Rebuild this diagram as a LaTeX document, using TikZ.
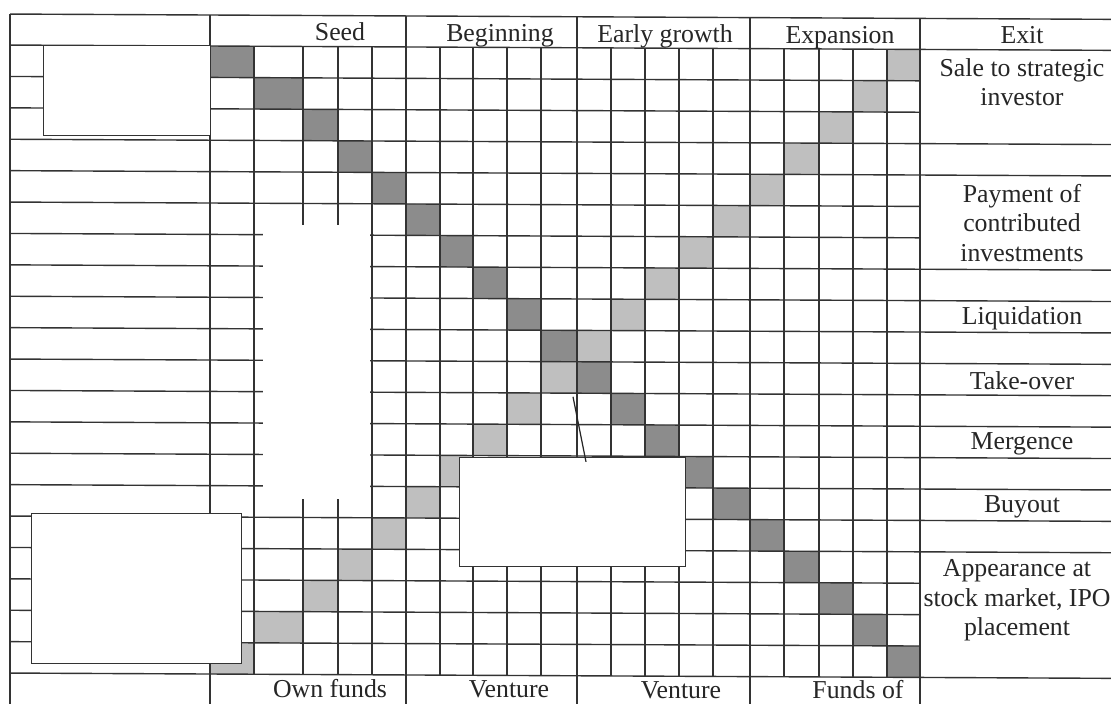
\documentclass[tikz,border=0pt]{standalone}
\usepackage{fontspec}
\setmainfont{Liberation Serif}
\begin{document}
\tikzset{
  gridline/.style={draw=black!80, line width=1.4pt},
  darkcell/.style={fill=black!45},
  lightcell/.style={fill=black!25},
  blankbox/.style={draw=black!80, line width=1.2pt, fill=white, inner sep=0pt, anchor=north west},
  gapbox/.style={fill=white, draw=none, inner sep=0pt, anchor=north west},
  callout/.style={draw=black!85, line width=1.2pt},
  lbl/.style={font=\fontsize{25.8}{29.5}\selectfont, inner sep=0pt, text=black!85},
}
\def\colarr{{210,254,303,338,372,406,440,473,507,541,577,611,645,679,713,750,784,819,853,887,920}}
\begin{tikzpicture}[x=1pt,y=-1pt]
\useasboundingbox (0,0) rectangle (1111,704);
\clip (0,0) rectangle (1111,704);
\fill[white] (0,0) rectangle (1111,704);
\begin{scope}[cm={1,-0.0048,0,1,(0,0)}]
  % shaded cells
  \foreach \i in {1,...,20}{
    \pgfmathsetmacro\xa{\colarr[\i-1]}
    \pgfmathsetmacro\xb{\colarr[\i]}
    \pgfmathsetmacro\xc{\colarr[20-\i]}
    \pgfmathsetmacro\xd{\colarr[21-\i]}
    \pgfmathsetmacro\ya{45+31.4*(\i-1)}
    \pgfmathsetmacro\yb{45+31.4*\i}
    \fill[darkcell] (\xa,\ya) rectangle (\xb,\yb);
    \fill[lightcell] (\xc,\ya) rectangle (\xd,\yb);
  }
  % horizontal lines
  \draw[gridline] (10,14) -- (1111,14);
  \foreach \k in {0,20} \draw[gridline] (10,{45+31.4*\k}) -- (1111,{45+31.4*\k});
  \foreach \k in {1,...,19} \draw[gridline] (10,{45+31.4*\k}) -- (920,{45+31.4*\k});
  \foreach \k in {3,4,7,8,9,10,11,12,13,14,15,16} \draw[gridline] (920,{45+31.4*\k}) -- (1111,{45+31.4*\k});
  % vertical lines
  \foreach \x in {10,210,406,577,750,920} \draw[gridline] (\x,14) -- (\x,712);
  \foreach \x in {254,303,338,372,440,473,507,541,611,645,679,713,784,819,853,887} \draw[gridline] (\x,45) -- (\x,673);
  % blank areas and boxes
  \node[gapbox, minimum width=107pt, minimum height=274pt] (gap) at (263,223.5) {};
  \node[blankbox, minimum width=167pt, minimum height=90pt] (topbox) at (43,45) {};
  \node[blankbox, minimum width=210pt, minimum height=150pt] (botbox) at (31,513) {};
  \node[blankbox, minimum width=226pt, minimum height=109pt] (midbox) at (459,455) {};
  \coordinate (ctip) at (573,394);
  \coordinate (cfoot) at (586,459);
  \draw[callout] (ctip) -- (cfoot);
  % header
  \node[lbl, anchor=base] (hseed) at (340,39) {Seed};
  \node[lbl, anchor=base] (hbeg) at (500,39) {Beginning};
  \node[lbl, anchor=base] (hearly) at (665,39) {Early growth};
  \node[lbl, anchor=base] (hexp) at (840,39) {Expansion};
  \node[lbl, anchor=base] (hexit) at (1022,39) {Exit};
  % exit labels
  \node[lbl, anchor=north, align=center] (esale) at (1022,53.4) {Sale to strategic\\investor};
  \node[lbl, anchor=north, align=center] (epay) at (1022,178.9) {Payment of\\contributed\\investments};
  \node[lbl, anchor=base] (eliq) at (1022,320) {Liquidation};
  \node[lbl, anchor=base] (etake) at (1022,384.3) {Take-over};
  \node[lbl, anchor=base] (emerg) at (1022,445) {Mergence};
  \node[lbl, anchor=base] (ebuy) at (1022,508) {Buyout};
  \node[lbl, anchor=north, align=center] (eipo) at (1017,554.6) {Appearance at\\stock market, IPO\\placement};
  % footer
  \node[lbl, anchor=base] (fown) at (330,696) {Own funds};
  \node[lbl, anchor=base] (fv1) at (509,695.5) {Venture};
  \node[lbl, anchor=base] (fv2) at (681,695) {Venture};
  \node[lbl, anchor=base] (ffunds) at (858,694.5) {Funds of};
\end{scope}
\end{tikzpicture}
\end{document}
